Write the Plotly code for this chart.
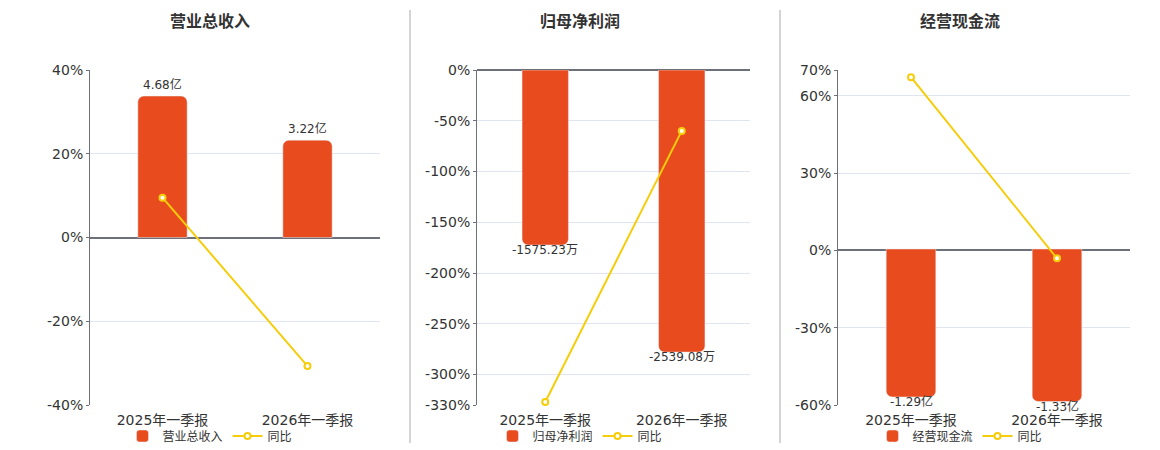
import plotly.graph_objects as go

categories = ["2025年一季报", "2026年一季报"]

revenue = [4.68, 3.22]
revenue_text = ["4.68亿", "3.22亿"]
revenue_yoy = [9.5, -30.7]

profit = [-1575.23, -2539.08]
profit_text = ["-1575.23万", "-2539.08万"]
profit_yoy = [-327.0, -60.0]

cash = [-1.29, -1.33]
cash_text = ["-1.29亿", "-1.33亿"]
cash_yoy = [67.2, -3.1]

titles = ["营业总收入", "归母净利润", "经营现金流"]
pct_ticks = [
    [-40, -20, 0, 20, 40],
    [0, -50, -100, -150, -200, -250, -300, -330],
    [-60, -30, 0, 30, 60, 70],
]
pct_ranges = [[-40, 40], [-330, 0], [-60, 70]]
bar_ranges = [[-5.54, 5.54], [-3015, 0], [-1.36, 1.56]]

BAR = "#e84c1e"
LINE = "#f5cd0a"
FONT = "DejaVu Sans, Noto Sans CJK SC"
W, H = 1160, 450
OFF = 8  # page body margin


def px_x(v):
    return (v - OFF) / W


def px_y(v):
    return 1 - (v - OFF) / H


panels = [
    (revenue, revenue_text, revenue_yoy),
    (profit, profit_text, profit_yoy),
    (cash, cash_text, cash_yoy),
]
x_dom = [(90, 380), (477, 750), (838, 1130)]
title_x = [210, 580, 960]
legend_x = [210, 580, 960]

fig = go.Figure()
layout = dict(
    width=W, height=H, margin=dict(l=0, r=0, t=0, b=0),
    paper_bgcolor="white", plot_bgcolor="white",
    font=dict(family=FONT, color="#333", size=12),
    barcornerradius=6, annotations=[], shapes=[],
)

for i, (vals, txt, yoy) in enumerate(panels):
    xa = "x" if i == 0 else f"x{i + 1}"
    ya_bar = f"y{2 * i + 1}" if i else "y"
    ya_pct = f"y{2 * i + 2}"
    lg = "legend" if i == 0 else f"legend{i + 1}"

    fig.add_trace(go.Bar(
        x=categories, y=vals, name=titles[i],
        marker_color=BAR, width=0.34,
        xaxis=xa, yaxis=ya_bar, legend=lg,
    ))
    fig.add_trace(go.Scatter(
        x=categories, y=yoy, name="同比", mode="lines+markers",
        line=dict(color=LINE, width=2),
        marker=dict(symbol="circle", size=6, color="white",
                    line=dict(color=LINE, width=2)),
        cliponaxis=False, xaxis=xa, yaxis=ya_pct, legend=lg,
    ))

    # value labels at the bar ends
    for c, v, t in zip(categories, vals, txt):
        layout["annotations"].append(dict(
            text=t, x=c, y=v, xref=xa, yref=ya_bar, showarrow=False,
            yanchor="middle", yshift=12 if v >= 0 else -5,
            font=dict(size=12, color="#333"),
        ))

    xk = "xaxis" if i == 0 else f"xaxis{i + 1}"
    yk_bar = "yaxis" if i == 0 else f"yaxis{2 * i + 1}"
    yk_pct = f"yaxis{2 * i + 2}"
    layout[xk] = dict(
        domain=[px_x(x_dom[i][0]), px_x(x_dom[i][1])], anchor=ya_bar,
        type="category", range=[-0.5, 1.5], automargin=False,
        showline=False, showgrid=False, zeroline=False, ticks="",
        ticklabelstandoff=5, tickfont=dict(size=14, color="#333"),
    )
    layout[yk_bar] = dict(
        domain=[px_y(405), px_y(70)], anchor=xa, range=bar_ranges[i],
        automargin=False, showticklabels=False, showgrid=False,
        zeroline=False, showline=False,
    )
    layout[yk_pct] = dict(
        overlaying=ya_bar, anchor=xa, side="left", range=pct_ranges[i],
        automargin=False,
        tickvals=pct_ticks[i], ticktext=[f"{v}%" for v in pct_ticks[i]],
        tickfont=dict(size=14, color="#333"), ticks="outside", ticklen=3,
        tickcolor="#6e7079", showline=True, linecolor="#6e7079", linewidth=1,
        showgrid=True, gridcolor="#e0e6f1", gridwidth=1,
        zeroline=True, zerolinecolor="#6e7079", zerolinewidth=2,
    )
    layout[lg] = dict(
        orientation="h", x=px_x(legend_x[i]), xanchor="center",
        y=px_y(436), yanchor="middle", font=dict(size=12, color="#333"),
        bgcolor="rgba(0,0,0,0)", itemwidth=30,
    )
    layout["annotations"].append(dict(
        text=f"<b>{titles[i]}</b>", x=px_x(title_x[i]), y=px_y(22),
        xref="paper", yref="paper", xanchor="center", yanchor="middle",
        showarrow=False, font=dict(size=16, color="#333"),
    ))

for sx in [410, 780]:
    layout["shapes"].append(dict(
        type="line", xref="paper", yref="paper",
        x0=px_x(sx), x1=px_x(sx), y0=px_y(443), y1=px_y(10),
        line=dict(color="#aaaaaa", width=1),
    ))

fig.update_layout(**layout)
fig.write_html("out.html")
